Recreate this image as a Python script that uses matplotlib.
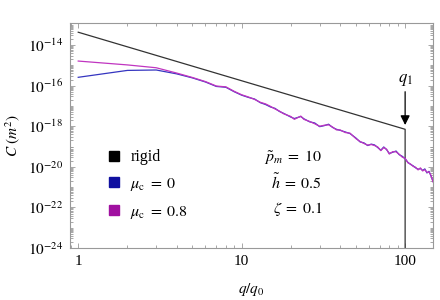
import numpy as np
import matplotlib
matplotlib.use('Agg')
import matplotlib.pyplot as plt
from matplotlib.lines import Line2D
from matplotlib.ticker import FixedLocator, LogLocator, NullFormatter

plt.rcParams['font.family'] = ['Liberation Serif', 'DejaVu Serif']
plt.rcParams['mathtext.fontset'] = 'stix'

# q/q0 sampling of the spectra
q = [1, 2, 3, 4, 5, 6, 7, 8, 9, 10, 11, 12, 13, 14, 15, 16, 17, 18, 20, 21,
     23, 24, 26, 28, 30, 32, 34, 36, 38, 40, 43, 46, 50, 53, 56, 59, 62, 65,
     68, 71, 74, 77, 80, 84, 88, 92, 96, 100, 104, 108, 112, 116, 120, 124,
     128, 132, 136, 140, 144, 148, 150]

# log10 C (m^2), mu_c = 0
logC_mu0 = [-15.59, -15.25, -15.23, -15.42, -15.62, -15.82, -16.04, -16.08,
            -16.30, -16.47, -16.58, -16.66, -16.84, -16.93, -17.05, -17.12,
            -17.27, -17.36, -17.55, -17.62, -17.52, -17.63, -17.78, -17.84,
            -18.02, -17.97, -17.90, -18.06, -18.15, -18.20, -18.28, -18.36,
            -18.58, -18.77, -18.82, -18.95, -18.88, -18.92, -19.05, -19.18,
            -19.02, -19.15, -19.34, -19.28, -19.22, -19.40, -19.48, -19.60,
            -19.78, -19.88, -19.95, -20.05, -20.12, -20.08, -20.18, -20.10,
            -20.30, -20.22, -20.45, -20.70, -20.80]

# log10 C (m^2), mu_c = 0.8
logC_mu08 = [-14.79, -14.98, -15.12, -15.38, -15.60, -15.80, -16.02, -16.06,
             -16.28, -16.45, -16.56, -16.68, -16.82, -16.90, -17.02, -17.15,
             -17.25, -17.38, -17.52, -17.66, -17.50, -17.66, -17.76, -17.88,
             -18.00, -17.95, -17.93, -18.04, -18.18, -18.18, -18.31, -18.34,
             -18.61, -18.75, -18.85, -18.93, -18.90, -18.95, -19.02, -19.20,
             -19.05, -19.13, -19.37, -19.25, -19.26, -19.38, -19.52, -19.58,
             -19.80, -19.86, -19.98, -20.02, -20.15, -20.05, -20.20, -20.14,
             -20.27, -20.25, -20.42, -20.74, -20.78]

# rigid case: power law up to q1, then cut off
q_rigid = [1, 100, 100]
logC_rigid = [-13.37, -18.15, -25.0]

labels = ['rigid', r'$\mu_{\rm c}\;=\;0$', r'$\mu_{\rm c}\;=\;0.8$']
line_colors = ['#333333', '#3535c0', '#c035c0']
key_colors = ['#000000', '#1010a0', '#a010a0']

fig = plt.figure(figsize=(4.4, 3.0), dpi=100)
ax = fig.add_axes([0.159, 0.173, 0.825, 0.750])

ax.plot(q_rigid, 10.0 ** np.array(logC_rigid), color=line_colors[0], lw=0.9)
ax.plot(q, 10.0 ** np.array(logC_mu0), color=line_colors[1], lw=0.9)
ax.plot(q, 10.0 ** np.array(logC_mu08), color=line_colors[2], lw=0.9)

ax.set_xscale('log')
ax.set_yscale('log')
ax.set_xlim(0.89, 148)
ax.set_ylim(1e-24, 1.2e-13)

ax.yaxis.set_major_locator(FixedLocator([1e-24, 1e-22, 1e-20, 1e-18, 1e-16, 1e-14]))
ax.set_yticklabels([r'$10^{-24}$', r'$10^{-22}$', r'$10^{-20}$',
                    r'$10^{-18}$', r'$10^{-16}$', r'$10^{-14}$'])
ax.yaxis.set_minor_locator(LogLocator(base=10, subs=np.arange(1, 10), numticks=100))
ax.yaxis.set_minor_formatter(NullFormatter())
ax.xaxis.set_major_locator(FixedLocator([1, 10, 100]))
ax.set_xticklabels(['1', '10', '100'])
ax.xaxis.set_minor_locator(LogLocator(base=10, subs=np.arange(2, 10), numticks=100))
ax.xaxis.set_minor_formatter(NullFormatter())

for s in ax.spines.values():
    s.set_color('#999999')
    s.set_linewidth(0.8)
ax.tick_params(which='both', direction='in', top=True, right=True,
               color='#999999', width=0.6, labelsize=11)
ax.tick_params(which='major', length=3.5, pad=5)
ax.tick_params(which='minor', length=2)

ax.set_xlabel(r'$q/q_0$', fontsize=11, labelpad=9)
ax.set_ylabel(r'$C\ (m^2)$', fontsize=11, labelpad=4)

# q1 arrow
ax.annotate('', xy=(100, 10 ** -17.94), xytext=(100, 10 ** -16.3),
            arrowprops=dict(arrowstyle='-|>', color='black', lw=0.9,
                            mutation_scale=14, shrinkA=0, shrinkB=0))
ax.text(100, 10 ** -15.72, r'$q_1$', fontsize=12, ha='center', va='center')

handles = [Line2D([], [], marker='s', linestyle='none', color=c, markersize=6.5)
           for c in key_colors]
ax.legend(handles, labels, loc='upper left', bbox_to_anchor=(0.105, 0.44),
          frameon=False, fontsize=11.5, borderpad=0, borderaxespad=0,
          handlelength=0.7, handletextpad=0.7, labelspacing=0.68)

ax.text(0.695, 0.404, r'$\tilde{p}_m\;=\;10$', transform=ax.transAxes,
        fontsize=11.5, ha='right', va='center')
ax.text(0.695, 0.289, r'$\tilde{h}\;=\;0.5$', transform=ax.transAxes,
        fontsize=11.5, ha='right', va='center')
ax.text(0.695, 0.173, r'$\zeta\;=\;0.1$', transform=ax.transAxes,
        fontsize=11.5, ha='right', va='center')

fig.savefig('out.png', dpi=100)
